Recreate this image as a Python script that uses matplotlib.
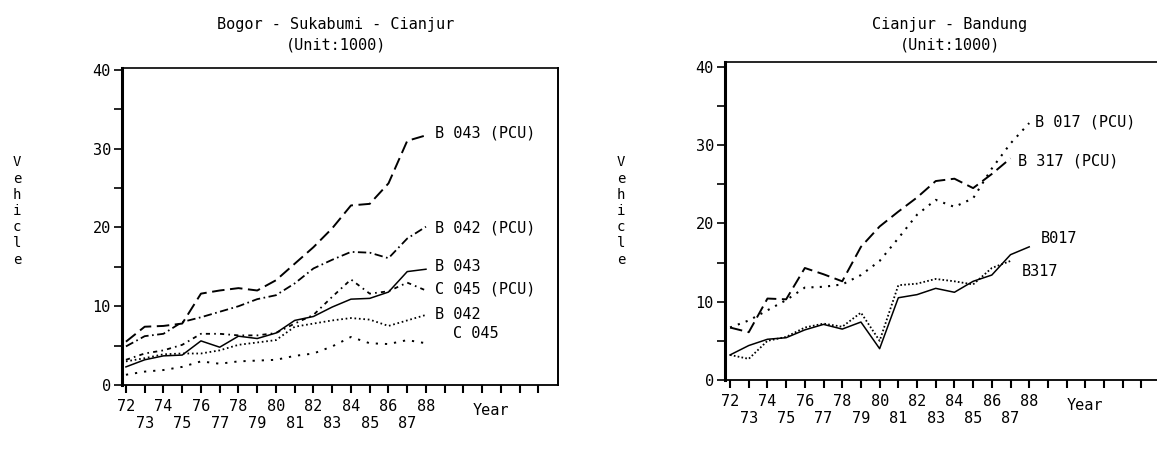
import matplotlib
matplotlib.use("Agg")
import matplotlib.pyplot as plt
from matplotlib.ticker import MultipleLocator

plt.rcParams["font.family"] = ["DejaVu Sans Mono"]
plt.rcParams["lines.scale_dashes"] = False

years = list(range(72, 89))
years_short = list(range(72, 88))

# Bogor - Sukabumi - Cianjur (unit: 1000)
b043_pcu = [5.5, 7.4, 7.5, 7.8, 11.6, 12.0, 12.3, 12.0, 13.3, 15.4, 17.5, 19.9, 22.8, 23.0, 25.6, 31.0, 31.7]
b042_pcu = [4.9, 6.2, 6.5, 8.0, 8.6, 9.3, 10.0, 10.9, 11.4, 12.9, 14.8, 15.9, 16.9, 16.8, 16.1, 18.6, 20.1]
b043 = [2.3, 3.2, 3.7, 3.8, 5.6, 4.8, 6.2, 5.9, 6.6, 8.2, 8.7, 9.9, 10.9, 11.0, 11.8, 14.4, 14.7]
c045_pcu = [3.2, 4.0, 4.4, 5.1, 6.5, 6.5, 6.3, 6.3, 6.6, 7.8, 8.9, 11.2, 13.4, 11.6, 11.9, 13.0, 12.0]
b042 = [3.0, 3.4, 3.9, 4.0, 4.0, 4.4, 5.1, 5.4, 5.7, 7.4, 7.8, 8.2, 8.5, 8.3, 7.5, 8.2, 8.9]
c045 = [1.3, 1.7, 1.9, 2.3, 3.0, 2.7, 3.0, 3.1, 3.2, 3.7, 4.0, 4.9, 6.1, 5.3, 5.2, 5.7, 5.3]

# Cianjur - Bandung (unit: 1000)
b317_pcu = [6.7, 6.1, 10.4, 10.3, 14.3, 13.5, 12.6, 17.0, 19.6, 21.5, 23.3, 25.4, 25.7, 24.5, 26.3, 28.3]
b017_pcu = [6.7, 7.6, 8.9, 10.2, 11.8, 11.9, 12.2, 13.4, 15.2, 18.1, 21.1, 23.0, 22.1, 23.2, 27.0, 30.2, 32.8]
b017 = [3.2, 4.4, 5.2, 5.4, 6.4, 7.1, 6.5, 7.4, 4.0, 10.5, 10.9, 11.7, 11.2, 12.6, 13.4, 16.0, 17.0]
b317 = [3.2, 2.7, 5.0, 5.5, 6.7, 7.2, 6.8, 8.6, 5.0, 12.1, 12.3, 12.9, 12.6, 12.2, 14.3, 15.2]

tick_years = list(range(72, 95))
tick_labels = [(str(y) if y % 2 == 0 else "\n" + str(y)) if y <= 88 else "" for y in tick_years]

W, H = 1157, 449
fig = plt.figure(figsize=(W / 100, H / 100), dpi=100)


def style_axes(ax, xlim, ylim, right_spine=True):
    ax.set_xlim(*xlim)
    ax.set_ylim(*ylim)
    ax.set_xticks(tick_years)
    ax.set_xticklabels(tick_labels, fontsize=11, linespacing=1.15)
    ax.yaxis.set_major_locator(MultipleLocator(10))
    ax.yaxis.set_minor_locator(MultipleLocator(5))
    ax.tick_params(axis="y", which="both", direction="out", length=6, width=1.2, labelsize=11, pad=2)
    ax.tick_params(axis="x", direction="out", length=6, width=1.5, pad=4)
    ax.spines["left"].set_linewidth(2.2)
    ax.spines["bottom"].set_linewidth(1.3)
    ax.spines["top"].set_linewidth(1.2)
    ax.spines["right"].set_linewidth(1.4)
    ax.spines["right"].set_visible(right_spine)


# ── Left panel ──
ax1 = fig.add_axes([122 / W, 64 / H, 436 / W, 317 / H])
style_axes(ax1, (71.79, 95.04), (0, 40.25))
ax1.plot(years, b043_pcu, color="k", lw=1.4, dashes=(9, 4))
ax1.plot(years, b042_pcu, color="k", lw=1.3, dashes=(6, 2.5, 1.2, 2.5))
ax1.plot(years, b043, color="k", lw=1.1)
ax1.plot(years, c045_pcu, color="k", lw=1.3, dashes=(3, 3, 1.2, 3))
ax1.plot(years, b042, color="k", lw=1.3, dashes=(1.2, 2))
ax1.plot(years, c045, color="k", lw=1.4, dashes=(1.6, 5))

lbl = dict(fontsize=11, va="center", ha="left")
ax1.text(88.5, 32.0, "B 043 (PCU)", **lbl)
ax1.text(88.5, 19.9, "B 042 (PCU)", **lbl)
ax1.text(88.5, 15.0, "B 043", **lbl)
ax1.text(88.5, 12.2, "C 045 (PCU)", **lbl)
ax1.text(88.5, 9.0, "B 042", **lbl)
ax1.text(89.45, 6.6, "C 045", **lbl)
ax1.text(90.5, -3.2, "Year", fontsize=11, va="center", ha="left")

fig.text(336 / W, 1 - 24 / H, "Bogor - Sukabumi - Cianjur", fontsize=11, ha="center", va="center")
fig.text(336 / W, 1 - 45 / H, "(Unit:1000)", fontsize=11, ha="center", va="center")
fig.text(17 / W, 1 - 211 / H, "V\ne\nh\ni\nc\nl\ne", fontsize=10, ha="center", va="center",
         linespacing=1.2)

# ── Right panel ──
ax2 = fig.add_axes([725 / W, 69 / H, 445 / W, 318 / H])
style_axes(ax2, (71.73, 95.53), (0, 40.6), right_spine=False)
ax2.plot(years_short, b317_pcu, color="k", lw=1.4, dashes=(9, 4))
ax2.plot(years, b017_pcu, color="k", lw=1.5, dashes=(1.5, 4.5))
ax2.plot(years, b017, color="k", lw=1.1)
ax2.plot(years_short, b317, color="k", lw=1.3, dashes=(1.2, 1.6))

ax2.text(88.3, 33.0, "B 017 (PCU)", **lbl)
ax2.text(87.4, 28.0, "B 317 (PCU)", **lbl)
ax2.text(88.6, 18.1, "B017", **lbl)
ax2.text(87.6, 13.8, "B317", **lbl)
ax2.text(90.0, -3.3, "Year", fontsize=11, va="center", ha="left")

fig.text(950 / W, 1 - 24 / H, "Cianjur - Bandung", fontsize=11, ha="center", va="center")
fig.text(950 / W, 1 - 45 / H, "(Unit:1000)", fontsize=11, ha="center", va="center")
fig.text(621 / W, 1 - 211 / H, "V\ne\nh\ni\nc\nl\ne", fontsize=10, ha="center", va="center",
         linespacing=1.2)

fig.savefig("out.png", dpi=100)
